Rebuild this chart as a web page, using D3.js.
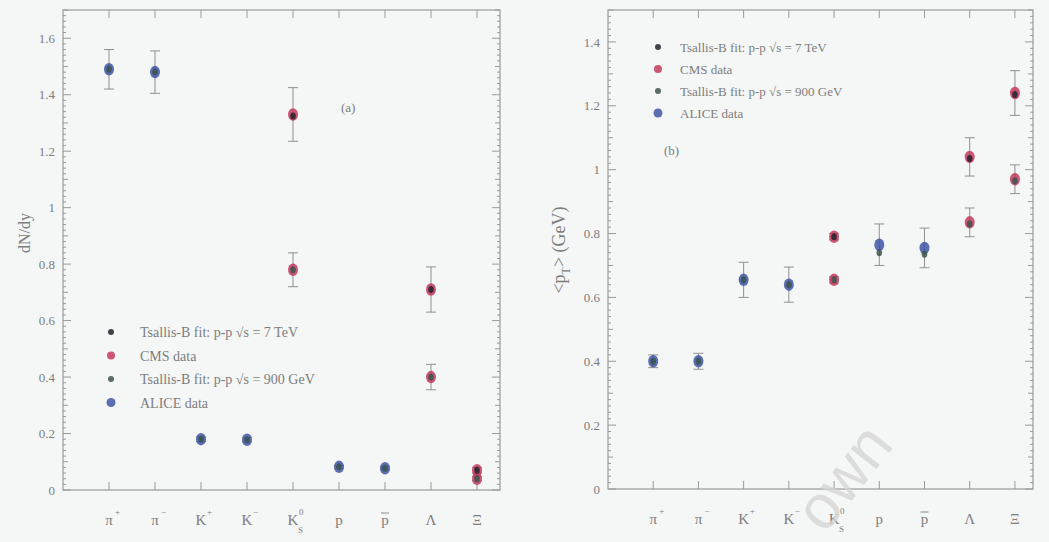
<!DOCTYPE html>
<html>
<head>
<meta charset="utf-8">
<script src="https://cdnjs.cloudflare.com/ajax/libs/d3/7.8.5/d3.min.js"></script>
<style>
  body { margin: 0; background: #f5f6f6; }
  svg { display: block; }
  text { font-family: "Liberation Serif", "DejaVu Serif", serif; fill: #7d7d7d; }
</style>
</head>
<body>
<div id="chart"></div>
<script>
// particle categories (x axis)
const particleBase = ["π", "π", "K", "K", "K", "p", "p", "Λ", "Ξ"];
const particleSup  = ["+", "−", "+", "−", "0", "", "", "", ""];
const particleSub  = ["", "", "", "", "S", "", "", "", ""];
const particleBar  = [false, false, false, false, false, false, true, false, false];

// panel (a): dN/dy
const aliceYield      = [1.49, 1.48, 0.18, 0.178, null, 0.082, 0.077, null, null];
const aliceYieldErr   = [0.07, 0.075, 0.008, 0.008, null, 0.005, 0.005, null, null];
const fit900Yield     = [1.49, 1.48, 0.18, 0.178, null, 0.082, 0.077, null, null];
const cms7Yield       = [null, null, null, null, 1.33, null, null, 0.71, 0.07];
const cms7YieldErr    = [null, null, null, null, 0.095, null, null, 0.08, 0.01];
const cms900Yield     = [null, null, null, null, 0.78, null, null, 0.40, 0.04];
const cms900YieldErr  = [null, null, null, null, 0.06, null, null, 0.045, 0.008];
const fit7Yield       = [null, null, null, null, 1.325, null, null, 0.71, 0.07];
const fit900YieldCms  = [null, null, null, null, 0.78, null, null, 0.40, 0.04];
const yieldTicks      = [0, 0.2, 0.4, 0.6, 0.8, 1, 1.2, 1.4, 1.6];

// panel (b): <pT>
const aliceMeanPt     = [0.40, 0.40, 0.655, 0.64, null, 0.765, 0.755, null, null];
const aliceMeanPtErr  = [0.02, 0.025, 0.055, 0.055, null, 0.065, 0.062, null, null];
const fit900MeanPt    = [0.40, 0.40, 0.655, 0.64, null, 0.74, 0.735, null, null];
const cms7MeanPt      = [null, null, null, null, 0.79, null, null, 1.04, 1.24];
const cms7MeanPtErr   = [null, null, null, null, 0.01, null, null, 0.06, 0.07];
const cms900MeanPt    = [null, null, null, null, 0.655, null, null, 0.835, 0.97];
const cms900MeanPtErr = [null, null, null, null, 0.01, null, null, 0.045, 0.045];
const fit7MeanPt      = [null, null, null, null, 0.79, null, null, 1.035, 1.235];
const fit900MeanPtCms = [null, null, null, null, 0.655, null, null, 0.83, 0.965];
const meanPtTicks     = [0, 0.2, 0.4, 0.6, 0.8, 1, 1.2, 1.4];

const legendLabels = ["Tsallis-B fit: p-p √s = 7 TeV", "CMS data",
                      "Tsallis-B fit: p-p √s = 900 GeV", "ALICE data"];

const colors = { alice: "#3f56a6", cms: "#c43a5c", fit7: "#23232e", fit900: "#3c5450", axis: "#9a9a9a" };

const svg = d3.select("#chart").append("svg")
    .attr("width", 1049).attr("height", 542);

const drawPanel = (p) => {
    const g = svg.append("g");
    const x = d3.scaleLinear().domain(p.xDomain).range([p.left, p.right]);
    const y = d3.scaleLinear().domain(p.yDomain).range([p.bottom, p.top]);

    // frame
    g.append("rect")
        .attr("x", p.left).attr("y", p.top)
        .attr("width", p.right - p.left).attr("height", p.bottom - p.top)
        .attr("fill", "none").attr("stroke", colors.axis).attr("stroke-width", 1.2);

    // minor y ticks, both sides
    const minor = d3.range(0, p.yDomain[1] + 1e-9, 0.02).map(v => +v.toFixed(2));
    const tickLen = v => (Math.abs(v * 10 - Math.round(v * 10)) < 1e-6 ? (Math.abs(v * 5 - Math.round(v * 5)) < 1e-6 ? 8 : 5) : 3);
    g.selectAll(".ytickL").data(minor).join("line")
        .attr("x1", p.left).attr("x2", d => p.left + tickLen(d))
        .attr("y1", d => y(d)).attr("y2", d => y(d))
        .attr("stroke", colors.axis);
    g.selectAll(".ytickR").data(minor).join("line")
        .attr("x1", p.right).attr("x2", d => p.right - tickLen(d))
        .attr("y1", d => y(d)).attr("y2", d => y(d))
        .attr("stroke", colors.axis);

    // y tick labels
    const leftAxis = d3.axisLeft(y).tickValues(p.yTicks).tickSize(0).tickPadding(8)
        .tickFormat(d3.format("~g"));
    const ya = g.append("g").attr("transform", `translate(${p.left},0)`).call(leftAxis);
    ya.select(".domain").remove();
    ya.selectAll("text").style("font-size", "13px").style("font-family", null).attr("fill", null);

    // x ticks top & bottom
    const xi = d3.range(particleBase.length);
    g.selectAll(".xtickB").data(xi).join("line")
        .attr("x1", d => x(d)).attr("x2", d => x(d))
        .attr("y1", p.bottom).attr("y2", p.bottom - 8).attr("stroke", colors.axis);
    g.selectAll(".xtickT").data(xi).join("line")
        .attr("x1", d => x(d)).attr("x2", d => x(d))
        .attr("y1", p.top).attr("y2", p.top + 8).attr("stroke", colors.axis);

    // x labels
    const lab = g.selectAll(".xlab").data(xi).join("g")
        .attr("transform", d => `translate(${x(d)},${p.bottom + 35})`);
    lab.append("text").attr("text-anchor", "middle").style("font-size", "15px")
        .text(d => particleBase[d]);
    lab.append("text").attr("x", 6).attr("y", -10).style("font-size", "9px")
        .text(d => particleSup[d]);
    lab.append("text").attr("x", 5).attr("y", 8).style("font-size", "9px")
        .text(d => particleSub[d]);
    lab.filter(d => particleBar[d]).append("line")
        .attr("x1", -4).attr("x2", 4).attr("y1", -12).attr("y2", -12)
        .attr("stroke", "#8a8a8a");

    // data series
    const drawSeries = (vals, errs, color, r) => {
        const pts = xi.filter(i => vals[i] != null).map(i => ({ i, v: vals[i], e: errs ? errs[i] : 0 }));
        if (errs) {
            const eb = g.append("g").attr("stroke", "#8f8f8f").attr("stroke-width", 1);
            eb.selectAll("line.v").data(pts).join("line")
                .attr("x1", d => x(d.i)).attr("x2", d => x(d.i))
                .attr("y1", d => y(d.v - d.e)).attr("y2", d => y(d.v + d.e));
            eb.selectAll("line.t").data(pts).join("line")
                .attr("x1", d => x(d.i) - 5).attr("x2", d => x(d.i) + 5)
                .attr("y1", d => y(d.v + d.e)).attr("y2", d => y(d.v + d.e));
            eb.selectAll("line.b").data(pts).join("line")
                .attr("x1", d => x(d.i) - 5).attr("x2", d => x(d.i) + 5)
                .attr("y1", d => y(d.v - d.e)).attr("y2", d => y(d.v - d.e));
        }
        g.append("g").selectAll("ellipse").data(pts).join("ellipse")
            .attr("cx", d => x(d.i)).attr("cy", d => y(d.v))
            .attr("rx", r).attr("ry", r * 1.25)
            .attr("fill", color).attr("opacity", 0.85);
    };
    p.series.forEach(s => drawSeries(s.vals, s.errs, s.color, s.r));

    // legend
    const leg = g.append("g");
    const legMarks = [
        { c: colors.fit7, r: 3 }, { c: colors.cms, r: 4 },
        { c: colors.fit900, r: 3 }, { c: colors.alice, r: 4.5 }
    ];
    legendLabels.forEach((t, k) => {
        const yy = p.legY + k * p.legStep;
        leg.append("circle").attr("cx", p.legX).attr("cy", yy).attr("r", legMarks[k].r)
            .attr("fill", legMarks[k].c).attr("opacity", 0.85);
        leg.append("text").attr("x", p.legX + p.legGap).attr("y", yy + 5)
            .style("font-size", p.legFont + "px").text(t);
    });

    // panel tag
    g.append("text").attr("x", p.tagX).attr("y", p.tagY).style("font-size", "13px").text(p.tag);

    // y title
    const yt = g.append("text")
        .attr("transform", `translate(${p.titleX},${p.titleY}) rotate(-90)`)
        .attr("text-anchor", "middle").style("font-size", p.titleFont + "px");
    p.title(yt);
};

drawPanel({
    left: 63, right: 500, top: 10, bottom: 490,
    xDomain: [-1, 8.5], yDomain: [0, 1.7], yTicks: yieldTicks,
    series: [
        { vals: aliceYield, errs: aliceYieldErr, color: colors.alice, r: 5 },
        { vals: cms7Yield, errs: cms7YieldErr, color: colors.cms, r: 5 },
        { vals: cms900Yield, errs: cms900YieldErr, color: colors.cms, r: 5 },
        { vals: fit900Yield, errs: null, color: colors.fit900, r: 2.8 },
        { vals: fit7Yield, errs: null, color: colors.fit7, r: 2.8 },
        { vals: fit900YieldCms, errs: null, color: colors.fit900, r: 2.8 }
    ],
    legX: 111, legY: 332, legStep: 23.5, legGap: 29, legFont: 14,
    tag: "(a)", tagX: 341, tagY: 112,
    titleX: 30, titleY: 233, titleFont: 16,
    title: t => t.text("dN/dy")
});

drawPanel({
    left: 608, right: 1033, top: 10, bottom: 489,
    xDomain: [-1, 8.4], yDomain: [0, 1.5], yTicks: meanPtTicks,
    series: [
        { vals: aliceMeanPt, errs: aliceMeanPtErr, color: colors.alice, r: 5 },
        { vals: cms7MeanPt, errs: cms7MeanPtErr, color: colors.cms, r: 5 },
        { vals: cms900MeanPt, errs: cms900MeanPtErr, color: colors.cms, r: 5 },
        { vals: fit900MeanPt, errs: null, color: colors.fit900, r: 2.8 },
        { vals: fit7MeanPt, errs: null, color: colors.fit7, r: 2.8 },
        { vals: fit900MeanPtCms, errs: null, color: colors.fit900, r: 2.8 }
    ],
    legX: 658, legY: 47, legStep: 22, legGap: 22, legFont: 13,
    tag: "(b)", tagX: 664, tagY: 155,
    titleX: 565, titleY: 250, titleFont: 18,
    title: t => {
        t.append("tspan").text("<p");
        t.append("tspan").attr("dy", 5).style("font-size", "12px").text("T");
        t.append("tspan").attr("dy", -5).text("> (GeV)");
    }
});

// faint watermark fragment
svg.append("text")
    .attr("transform", "translate(825,535) rotate(-52)")
    .style("font-size", "62px").style("font-family", "Liberation Sans, sans-serif")
    .attr("fill", "#d6d6d6").style("fill", "#d6d6d6").attr("opacity", 0.8)
    .text("own");
</script>
</body>
</html>
